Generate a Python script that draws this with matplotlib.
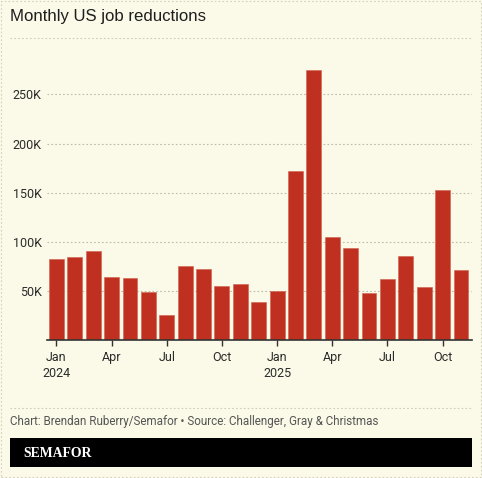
import matplotlib
matplotlib.use("Agg")
import matplotlib.pyplot as plt
from matplotlib.patches import Rectangle
from matplotlib.lines import Line2D

months = ["Jan 2024", "Feb 2024", "Mar 2024", "Apr 2024", "May 2024", "Jun 2024",
          "Jul 2024", "Aug 2024", "Sep 2024", "Oct 2024", "Nov 2024", "Dec 2024",
          "Jan 2025", "Feb 2025", "Mar 2025", "Apr 2025", "May 2025", "Jun 2025",
          "Jul 2025", "Aug 2025", "Sep 2025", "Oct 2025", "Nov 2025"]
job_cuts = [82.3, 84.6, 90.3, 64.8, 63.8, 48.8, 25.9, 75.9, 72.8, 55.6, 57.7, 38.8,
            49.8, 172.0, 275.2, 105.4, 93.8, 48.0, 62.1, 86.0, 54.1, 153.1, 71.3]
xtick_pos = [0, 3, 6, 9, 12, 15, 18, 21]
xtick_labels = ["Jan\n2024", "Apr", "Jul", "Oct", "Jan\n2025", "Apr", "Jul", "Oct"]
ytick_vals = [50, 100, 150, 200, 250]
ytick_labels = ["50K", "100K", "150K", "200K", "250K"]

W, H = 482, 478
BG = "#FBF9E7"
RED = "#BF3021"
TXT = "#2b2b2b"

fig = plt.figure(figsize=(W / 100, H / 100), dpi=100, facecolor=BG)

def fx(px):
    return px / W

def fy(py):
    return 1 - py / H

ax_left, ax_right = 47.2, 472.0
ax_bottom, ax_top = 340.3, 59.9
ax = fig.add_axes([fx(ax_left), fy(ax_bottom), fx(ax_right - ax_left), (ax_bottom - ax_top) / H])
ax.set_facecolor(BG)

x = list(range(len(months)))
ax.bar(x, job_cuts, width=0.81, color=RED, edgecolor="#d2604f", linewidth=0.4, zorder=3)
ax.set_xlim(-0.5, 22.6)
ax.set_ylim(0, 285)

ax.set_yticks(ytick_vals)
ax.set_yticklabels(ytick_labels)
ax.set_xticks(xtick_pos)
ax.set_xticklabels(xtick_labels, linespacing=1.25)
ax.tick_params(axis="y", length=0, pad=4, labelsize=9, labelcolor=TXT)
ax.tick_params(axis="x", length=4, width=1, color="#333333", pad=4, labelsize=9, labelcolor=TXT)
for lab in ax.get_xticklabels() + ax.get_yticklabels():
    lab.set_family("Roboto")

ax.grid(axis="y", color="#bdbaa9", linestyle=(0, (1.5, 2)), linewidth=0.8, zorder=0)
for s in ["top", "right", "left"]:
    ax.spines[s].set_visible(False)
ax.spines["bottom"].set_color("#333333")
ax.spines["bottom"].set_linewidth(1.2)
ax.spines["bottom"].set_zorder(4)

# title
fig.text(fx(10), fy(17), "Monthly US job reductions", fontsize=12.1, color="#1e1e1e",
         family="Liberation Sans", va="center", ha="left")

# separators
for yy in (38, 408):
    fig.add_artist(Line2D([fx(10), fx(472)], [fy(yy), fy(yy)], color="#cfccba",
                          linestyle=(0, (1.5, 2)), linewidth=0.8))

# source
fig.text(fx(10), fy(421.7), "Chart: Brendan Ruberry/Semafor \u2022 Source: Challenger, Gray & Christmas",
         fontsize=8.4, color="#555555", family="Roboto", va="center", ha="left")

# banner
fig.add_artist(Rectangle((fx(10), fy(467.3)), fx(462), (467.3 - 438.3) / H,
                         facecolor="black", edgecolor="none"))
fig.text(fx(23), fy(453.5), "SEMAFOR", fontsize=9.9, color="white", fontweight="bold",
         family="Liberation Serif", va="center", ha="left")

# outer dashed border
fig.add_artist(Rectangle((fx(1), fy(477)), fx(480), 476 / H, facecolor="none",
                         edgecolor="#d3d0bd", linestyle=(0, (1.5, 2)), linewidth=0.8))

fig.savefig("out.png", dpi=100, facecolor=BG)
